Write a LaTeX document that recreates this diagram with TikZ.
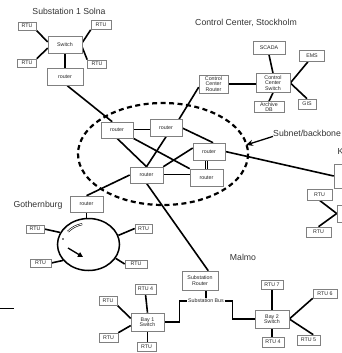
\documentclass[tikz,border=0pt]{standalone}
\usepackage{fontspec}
\setmainfont{Liberation Sans}
\usetikzlibrary{shapes.geometric,arrows.meta,calc}
\pgfdeclarelayer{bg}
\pgfsetlayers{bg,main}
\tikzset{
  sz/.style 2 args={minimum width=#1pt, minimum height=#2pt},
  box/.style={draw=black!50, fill=white, line width=0.6pt, inner sep=0pt,
    align=center, font=\fontsize{5.3}{5.6}\selectfont, text=black!85},
  link/.style={line width=1.6pt, black},
  dbl/.style={line width=0.9pt, double distance=0.9pt, black},
  title/.style={font=\fontsize{8.7}{10}\selectfont, text=black!80, inner sep=0pt},
}
\begin{document}
\begin{tikzpicture}[x=1pt,y=-1pt]
\useasboundingbox (0,0) rectangle (342,353);

% ---------- Substation 1 Solna ----------
\node[title] (tSolna) at (69,11) {Substation 1 Solna};
\node[box, sz={18}{8}]  (rtuA) at (27,26)  {RTU};
\node[box, sz={20}{9}]  (rtuB) at (101,25) {RTU};
\node[box, sz={19}{8}]  (rtuC) at (27,63)  {RTU};
\node[box, sz={19}{8}]  (rtuD) at (97,64)  {RTU};
\node[box, sz={34}{17}] (sw1)  at (65,45)  {Switch};
\node[box, sz={36}{17}] (r0)   at (65,77)  {router};

% ---------- Control Center, Stockholm ----------
\node[title] (tCC) at (246,23) {Control Center, Stockholm};
\node[box, sz={32}{13}] (scada) at (269,48)  {SCADA};
\node[box, sz={25}{11}] (ems)   at (312,56)  {EMS};
\node[box, sz={34}{19}] (ccsw)  at (273,83)  {Control\\Center\\Switch};
\node[box, sz={29}{18}] (ccr)   at (213.5,84) {Control\\Center\\Router};
\node[box, sz={30}{11}] (adb)   at (269,107) {Archive\\DB};
\node[box, sz={18}{10}] (gis)   at (307,104) {GIS};

% ---------- backbone routers ----------
\node[box, sz={32}{16}] (r1) at (117,130)   {router};
\node[box, sz={32}{17}] (r2) at (166,128)   {router};
\node[box, sz={32}{17}] (r3) at (209,151.5) {router};
\node[box, sz={33}{16}] (r4) at (146.5,175) {router};
\node[box, sz={33}{17}] (r5) at (206.5,177.5) {router};

\node[title, anchor=west] (sbb) at (273,133) {Subnet/backbone};
\coordinate (sbtip) at (246,145);
\node[title, anchor=west] (kt) at (337.5,152) {K};

% ---------- far right site ----------
\node[box, sz={26}{24}] (fr)  at (347,176)   {};
\node[box, sz={18}{17}] (fr2) at (346,213.5) {};
\node[box, sz={25}{11}] (rr1) at (319.5,194.5) {RTU};
\node[box, sz={25}{10}] (rr2) at (318.5,232) {RTU};

% ---------- Gothernburg ----------
\node[title] (tGot) at (38,205) {Gothernburg};
\node[box, sz={33}{16}] (gr) at (86.5,204) {router};
\node[ellipse, draw, line width=1.5pt, inner sep=0pt, sz={62}{52}] (ring) at (88.5,244.5) {};
\node[box, sz={18}{8}] (gA) at (35,229)    {RTU};
\node[box, sz={17}{9}] (gB) at (143.5,228.5) {RTU};
\node[box, sz={21}{8}] (gC) at (40.5,263)  {RTU};
\node[box, sz={22}{8}] (gD) at (136,264)   {RTU};
\coordinate (ga1) at (68,248);
\coordinate (ga2) at (83,257);

% ---------- Malmo ----------
\node[title] (tMal) at (243,257) {Malmo};
\node[box, sz={36}{19}] (srt)  at (200,280.5) {Substation\\Router};
\node[box, sz={33}{18}] (bay1) at (147.5,322) {Bay 1\\Switch};
\node[box, sz={21}{10}] (rtu4a) at (145.5,289) {RTU 4};
\node[box, sz={18}{9}]  (b1a)  at (108,300.5) {RTU};
\node[box, sz={19}{9}]  (b1b)  at (108.5,337.5) {RTU};
\node[box, sz={19}{9}]  (b1c)  at (146.5,346.5) {RTU};
\node[box, sz={34}{18}] (bay2) at (272,319) {Bay 2\\Switch};
\node[box, sz={22}{9}]  (rtu7) at (272,284.5) {RTU 7};
\node[box, sz={24}{9}]  (rtu6) at (325,293.5) {RTU 6};
\node[box, sz={22}{10}] (rtu4b) at (273,342) {RTU 4};
\node[box, sz={23}{10}] (rtu5) at (308.5,340) {RTU 5};
\node[fill=white, inner sep=0.5pt, font=\fontsize{5.3}{5.6}\selectfont, text=black!85] (bus) at (206,301) {Substation Bus};

\coordinate (lnA) at (0,308);
\coordinate (lnB) at (14,308);

\begin{pgfonlayer}{bg}
  % backbone boundary
  \draw[line width=2.2pt, dash pattern=on 5pt off 3.5pt] (163,154) ellipse [x radius=85, y radius=51];
  \draw[line width=1.3pt, -{Stealth[length=7pt,width=6pt]}] (sbb.south west) -- (sbtip);

  % Solna
  \draw[link] (rtuA.south east) -- (sw1.170);
  \draw[link] (rtuB.south west) -- (sw1.8);
  \draw[link] (rtuC.north east) -- (sw1.190);
  \draw[link] (rtuD.north west) -- (sw1.-8);
  \draw[link] (sw1.south) -- (r0.north);
  \draw[link] (r0.-75) -- (r1.120);

  % control center
  \draw[link] (scada.south) -- (ccsw.north);
  \draw[link] (ccr.east) -- (ccr.east -| ccsw.west);
  \draw[link] (ccsw.east) -- (ems.-125);
  \draw[link] (ccsw.east) -- (gis.north);
  \draw[link] (ccsw.south) -- (adb.north);
  \draw[link] (ccr.192) -- (r2.34);

  % backbone mesh
  \draw[dbl] (r1.east) -- (r1.east -| r2.west);
  \draw[link] (r1.south) -- (r4.north);
  \draw[link] (r1.south east) -- (r5.north west);
  \draw[link] (r2.south) -- (r4.north);
  \draw[link] (r2.east) -- (r3.65);
  \draw[link] (r3.168) -- (r4.north east);
  \draw[dbl] (r4.east) -- (r4.east -| r5.west);
  \draw[dbl] (r5.north) -- (r5.north |- r3.south);
  \draw[link] (r3.east) -- (fr.west);
  \draw[link] (r4.west) -- (gr.north);
  \draw[link] (r4.south) -- (srt.50);

  % far right
  \draw[link] (rr1.south) -- (fr2.west);
  \draw[link] (rr2.north) -- (fr2.west);

  % Gothernburg ring
  \draw[link] (gr.south) -- (gr.south |- ring.north);
  \draw[link] (gA.east) -- (ring.157);
  \draw[link] (gB.west) -- (ring.17);
  \draw[link] (gC.east) -- (ring.212);
  \draw[link] (gD.west) -- (ring.-27);

  % Malmo
  \draw[link] (bus.north) -- (bus.north |- srt.south);
  \draw[link] (bay1.east) -- ++(15,0) |- (bus.west);
  \draw[link] (bus.east) -- ++(8,0) |- (bay2.west);
  \draw[link] (rtu4a.south) -- (bay1.north);
  \draw[link] (b1a.south east) -- (bay1.168);
  \draw[link] (b1b.north east) -- (bay1.192);
  \draw[link] (bay1.south) -- (bay1.south |- b1c.north);
  \draw[link] (rtu7.south) -- (bay2.north);
  \draw[link] (bay2.east) -- (rtu6.south west);
  \draw[link] (bay2.east) -- (rtu5.48);
  \draw[link] (bay2.south) -- (bay2.south |- rtu4b.north);

  \draw[line width=0.9pt] (lnA) -- (lnB);
\end{pgfonlayer}

% ring direction marks
\draw[line width=0.6pt, double distance=0.8pt] (82.2,224.1) arc[start angle=-104, end angle=-142, x radius=26, y radius=21];
\fill (63,239) circle[radius=0.9pt];
\draw[line width=1.3pt, -{Triangle[length=5pt,width=5pt]}] (ga1) -- (ga2);

\end{tikzpicture}
\end{document}
